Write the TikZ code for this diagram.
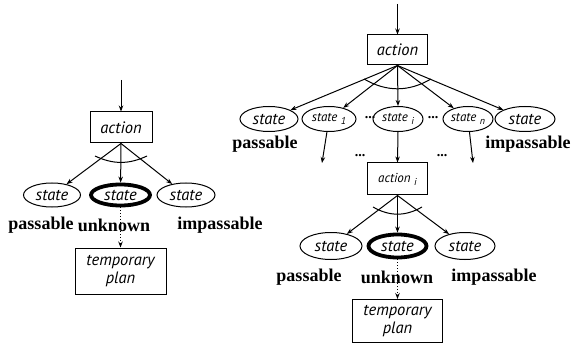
\documentclass[tikz,border=0pt]{standalone}
\usepackage{fontspec}
\setmainfont{Liberation Serif}
\newfontfamily\hfont{PT Sans}
\usetikzlibrary{arrows.meta,shapes.geometric}
\newcommand{\subx}[1]{\raisebox{-3pt}{\fontsize{10}{11}\selectfont #1}}
\begin{document}
\begin{tikzpicture}[x=1pt,y=-1pt,
  box/.style={draw,line width=1pt,inner sep=0pt,align=center,font=\hfont\itshape\fontsize{16.5}{18}\selectfont},
  st/.style={draw,ellipse,line width=1pt,inner sep=0pt,minimum height=24pt,font=\hfont\itshape\fontsize{16.5}{18}\selectfont},
  sst/.style={st,font=\hfont\itshape\fontsize{13}{14}\selectfont,minimum height=25pt},
  unk/.style={line width=3.8pt},
  lbl/.style={font=\bfseries\fontsize{18}{20}\selectfont,inner sep=0pt},
  dts/.style={font=\bfseries\fontsize{14}{14}\selectfont,inner sep=0pt},
  arr/.style={line width=1pt,-{Stealth[length=6pt,width=4.5pt]}},
  dotarr/.style={arr,dotted},
  arcl/.style={line width=1pt}
  ]
\useasboundingbox (0,0) rectangle (574,345);
% ---------- left diagram ----------
\coordinate (inL) at (121,80);
\node[box,minimum width=62pt,minimum height=31pt] (actL) at (121,127.5) {action};
\node[st,minimum width=57pt] (L1) at (52,195) {state};
\node[st,unk,minimum width=59pt,minimum height=21pt] (L2) at (120.5,195) {state};
\node[st,minimum width=58pt] (L3) at (186,195) {state};
\node[lbl] (pL1) at (41,225) {passable};
\node[lbl] (pL2) at (114,225) {unknown};
\node[lbl] (pL3) at (220,225) {impassable};
\node[box,minimum width=91pt,minimum height=46pt] (tL) at (120.5,271) {temporary\\plan};
\draw[arr] (inL) -- (actL);
\draw[arr] (actL.south) -- (L1);
\draw[arr] (actL.south) -- (L2);
\draw[arr] (actL.south) -- (L3);
\draw[dotarr] (L2) -- (tL);
\coordinate (aL1) at (95,156);
\coordinate (aL2) at (147,156);
\draw[arcl] (aL1) to[bend right=25] (aL2);
% ---------- right diagram ----------
\coordinate (inR) at (397.5,4);
\node[box,minimum width=60pt,minimum height=30pt] (actR) at (397.5,50) {action};
\node[st,minimum width=58pt,minimum height=25pt] (R1) at (269,119) {state};
\node[sst,minimum width=54pt] (R2) at (329,119) {state \subx{1}};
\node[sst,minimum width=50pt] (R3) at (398,119) {state \subx{i}};
\node[sst,minimum width=50pt] (R4) at (468,119) {state \subx{n}};
\node[st,minimum width=60pt,minimum height=25pt] (R5) at (525,119) {state};
\node[dts] (dt1) at (370,118) {...};
\node[dts] (dt2) at (433,118) {...};
\node[lbl] (pR1) at (265,144) {passable};
\node[lbl] (pR5) at (528,144) {impassable};
\draw[arr] (inR) -- (actR);
\draw[arr] (actR.south) -- (R1);
\draw[arr] (actR.south) -- (R2);
\draw[arr] (actR.south) -- (R3.north);
\draw[arr] (actR.south) -- (R4);
\draw[arr] (actR.south) -- (R5);
\coordinate (aR1) at (364,79);
\coordinate (aR2) at (431,79);
\draw[arcl] (aR1) to[bend right=30] (aR2);
\coordinate (d1) at (322,163);
\coordinate (d2) at (473,163);
\node[dts] (dt3) at (360,156) {...};
\node[dts] (dt4) at (442,156) {...};
\node[box,minimum width=60pt,minimum height=32pt,font=\hfont\itshape\fontsize{13}{14}\selectfont] (actI) at (397.5,179) {action \subx{i}};
\draw[arr] (R2) -- (d1);
\draw[arr] (R4) -- (d2);
\draw[arr] (R3.south) -- (actI.north);
\node[st,minimum width=62pt,minimum height=27pt] (S1) at (331,246) {state};
\node[st,unk,minimum width=58pt,minimum height=23pt] (S2) at (397.5,246) {state};
\node[st,minimum width=60pt,minimum height=27pt] (S3) at (465,246) {state};
\node[lbl] (pS1) at (309,277) {passable};
\node[lbl] (pS2) at (397,277) {unknown};
\node[lbl] (pS3) at (494,277) {impassable};
\node[box,minimum width=90pt,minimum height=43pt] (tR) at (397.5,321) {temporary\\plan};
\draw[arr] (actI.south) -- (S1);
\draw[arr] (actI.south) -- (S2);
\draw[arr] (actI.south) -- (S3);
\draw[dotarr] (S2) -- (tR);
\coordinate (aS1) at (373,207);
\coordinate (aS2) at (422,207);
\draw[arcl] (aS1) to[bend right=30] (aS2);
\end{tikzpicture}
\end{document}
